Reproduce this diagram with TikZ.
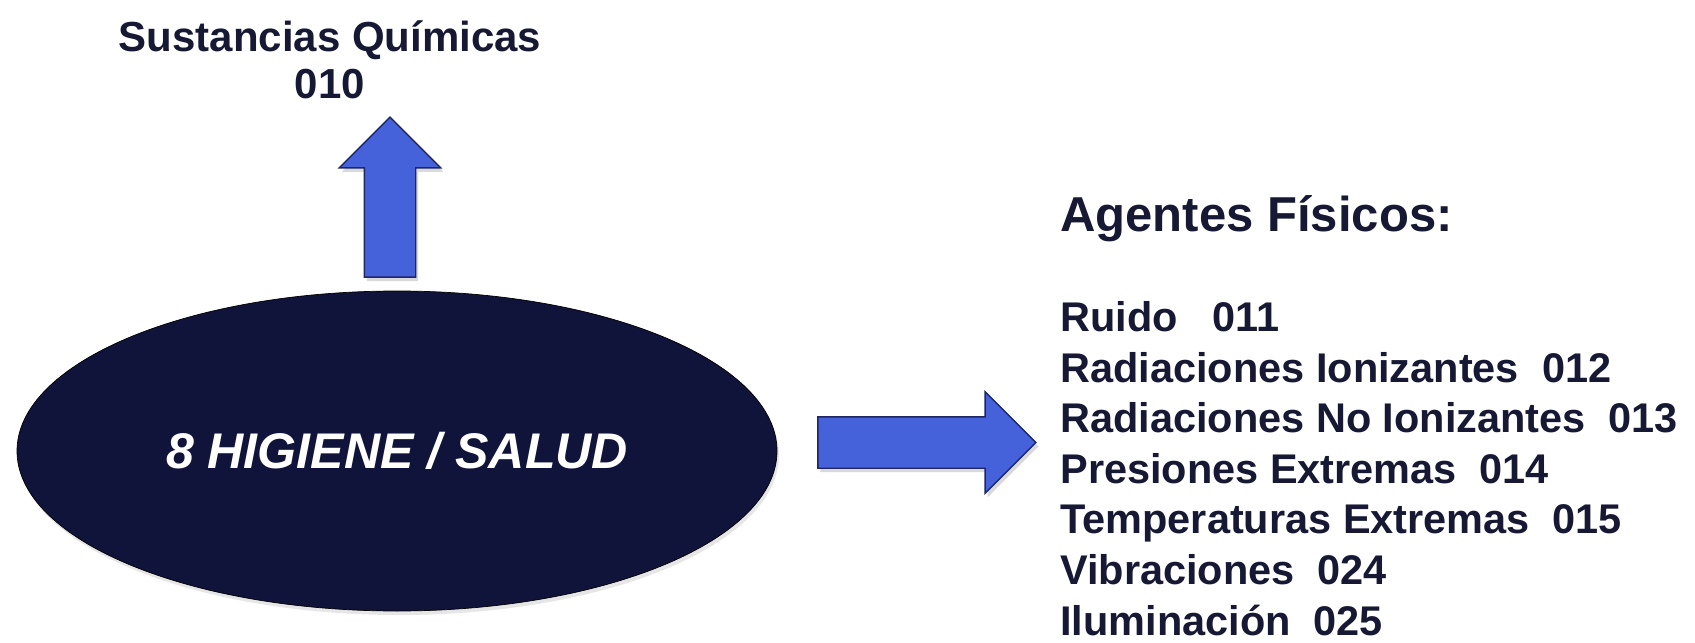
\documentclass[tikz,border=0pt]{standalone}
\usepackage{fontspec}
\setmainfont{Liberation Sans}
\usetikzlibrary{shapes.geometric,shapes.arrows,shadows}
\definecolor{hubnavy}{RGB}{16,19,58}
\definecolor{arrowblue}{RGB}{70,98,218}
\definecolor{arrowrim}{RGB}{30,38,100}
\definecolor{inkblue}{RGB}{22,24,52}

\begin{document}
\begin{tikzpicture}[x=1cm, y=1cm,
	hub/.style={ellipse, draw=black, fill=hubnavy, minimum width=15.2cm, minimum height=6.4cm, inner sep=0pt, text=white, font=\fontsize{28.5}{34}\selectfont\bfseries\itshape, drop shadow={opacity=0.2, shadow xshift=0.04cm, shadow yshift=-0.08cm}},
	fatarrow/.style={single arrow, draw=arrowrim, line width=0.8pt, fill=arrowblue, single arrow head extend=0.5cm, inner sep=0.5cm, drop shadow={opacity=0.3, shadow xshift=0.05cm, shadow yshift=-0.08cm}},
	heading/.style={text=inkblue, inner sep=0pt, font=\fontsize{27.9}{33}\selectfont\bfseries},
	agent/.style={text=inkblue, inner sep=0pt, anchor=base west, font=\fontsize{23.6}{28.9}\selectfont\bfseries}]
	\useasboundingbox (0,0) rectangle (33.9,12.84);

	\node[hub] (hub) at (7.94,3.82) {8 HIGIENE / SALUD};

	\node[fatarrow, rotate=90, minimum height=3.2cm] (uparrow) at (7.8,8.64) {};
	\node[fatarrow, minimum height=4.36cm] (rightarrow) at (18.28,3.99) {};

	\node[heading, anchor=north, align=center, font=\fontsize{23.9}{26.7}\selectfont\bfseries] (chem) at (6.6,12.44) {Sustancias Químicas\\010};
	\node[heading, anchor=base west] (agents) at (21.2,8.2) {Agentes Físicos:};

	\foreach \txt [count=\i from 0] in {Ruido~~~011, Radiaciones Ionizantes~~012, Radiaciones No Ionizantes~~013, Presiones Extremas~~014, Temperaturas Extremas~~015, Vibraciones~~024, Iluminación~~025}
		\node[agent] (agent\i) at (21.2,{6.21-\i*1.012}) {\txt};
\end{tikzpicture}
\end{document}
